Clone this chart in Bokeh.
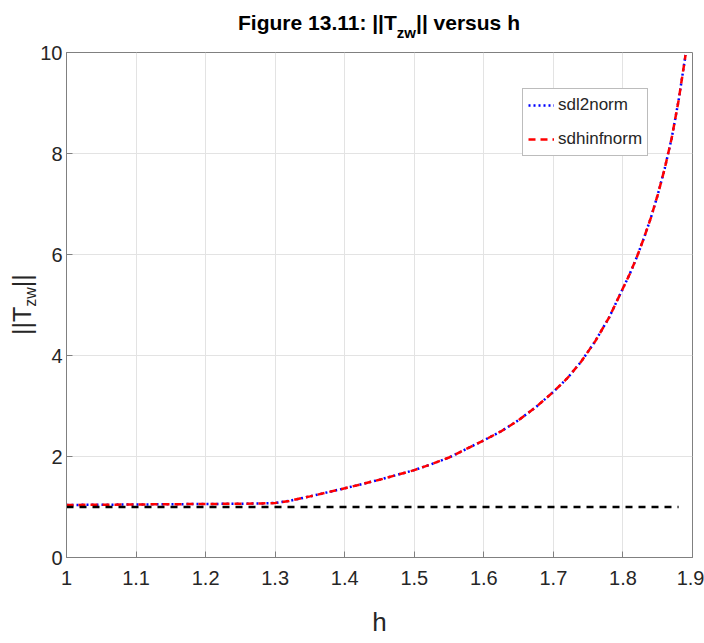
from bokeh.plotting import figure
from bokeh.models import Legend, LegendItem, FixedTicker, Range1d, Div
from bokeh.layouts import column, row
from bokeh.embed import file_html
from bokeh.resources import INLINE

# ---- data ----
h = [1.00, 1.05, 1.10, 1.15, 1.20, 1.25, 1.28, 1.30, 1.32, 1.35, 1.40, 1.45,
     1.50, 1.525, 1.55, 1.60, 1.625, 1.65, 1.675, 1.70, 1.72, 1.74, 1.76, 1.78,
     1.80, 1.81, 1.82, 1.83, 1.84, 1.85, 1.86, 1.87, 1.88, 1.89]
sdl2norm = [1.04, 1.045, 1.05, 1.055, 1.06, 1.065, 1.07, 1.08, 1.12, 1.21, 1.37, 1.54,
            1.73, 1.85, 1.98, 2.32, 2.50, 2.72, 2.98, 3.28, 3.55, 3.88, 4.28, 4.75,
            5.33, 5.62, 5.95, 6.32, 6.72, 7.18, 7.70, 8.30, 9.05, 9.95]
sdhinfnorm = [1.04, 1.045, 1.05, 1.055, 1.06, 1.065, 1.07, 1.08, 1.12, 1.21, 1.37, 1.54,
              1.73, 1.85, 1.98, 2.32, 2.50, 2.72, 2.98, 3.28, 3.55, 3.88, 4.28, 4.75,
              5.33, 5.62, 5.95, 6.32, 6.72, 7.18, 7.70, 8.30, 9.05, 9.95]
h_ref = [1.00, 1.88]
ref = [1.0, 1.0]

x_ticks = [1.0, 1.1, 1.2, 1.3, 1.4, 1.5, 1.6, 1.7, 1.8, 1.9]
x_tick_labels = ["1", "1.1", "1.2", "1.3", "1.4", "1.5", "1.6", "1.7", "1.8", "1.9"]
y_ticks = [0, 2, 4, 6, 8, 10]

FONT = "Liberation Sans"
AX_COL = "#808080"
TXT_COL = "#262626"

TITLE_H = 38
YLAB_W = 36
W, H = 704, 643

p = figure(width=W - YLAB_W, height=H - TITLE_H,
           x_range=Range1d(1.0, 1.9), y_range=Range1d(0, 10),
           output_backend="svg", toolbar_location=None,
           min_border_left=30, min_border_right=12, min_border_top=14,
           min_border_bottom=86, margin=0)
p.outline_line_color = AX_COL
p.outline_line_width = 1
p.background_fill_color = "white"
p.border_fill_color = "white"

for ax in (p.xaxis[0], p.yaxis[0]):
    ax.axis_line_color = AX_COL
    ax.major_tick_line_color = AX_COL
    ax.major_tick_in = 6
    ax.major_tick_out = 0
    ax.minor_tick_line_color = None
    ax.major_label_text_font = FONT
    ax.major_label_text_font_size = "20px"
    ax.major_label_text_color = TXT_COL

p.xaxis.ticker = FixedTicker(ticks=x_ticks)
p.xaxis.major_label_overrides = {t: s for t, s in zip(x_ticks, x_tick_labels)}
p.xaxis.major_label_standoff = 13
p.xaxis.axis_label = "h"
p.xaxis.axis_label_text_font = FONT
p.xaxis.axis_label_text_font_size = "26px"
p.xaxis.axis_label_text_font_style = "normal"
p.xaxis.axis_label_text_color = TXT_COL
p.xaxis.axis_label_standoff = 19
p.yaxis.ticker = FixedTicker(ticks=y_ticks)
p.yaxis.major_label_standoff = 4

p.xgrid.ticker = FixedTicker(ticks=x_ticks)
p.ygrid.ticker = FixedTicker(ticks=y_ticks)
p.xgrid.grid_line_color = "#e3e3e3"
p.ygrid.grid_line_color = "#e3e3e3"

r_l2 = p.line(h, sdl2norm, line_color="#0000ff", line_width=2.5, line_dash="2 3")
r_hinf = p.line(h, sdhinfnorm, line_color="#ff0000", line_width=2.5, line_dash="7 5")
p.line(h_ref, ref, line_color="black", line_width=2.5, line_dash="7 6")

legend = Legend(items=[LegendItem(label="sdl2norm", renderers=[r_l2]),
                       LegendItem(label="sdhinfnorm", renderers=[r_hinf])],
                location=(456, 401))
legend.label_text_font = FONT
legend.label_text_font_size = "17px"
legend.label_text_color = TXT_COL
legend.border_line_color = "#7a7a7a"
legend.border_line_width = 1
legend.background_fill_color = "white"
legend.background_fill_alpha = 1
legend.glyph_width = 26
legend.glyph_height = 22
legend.label_height = 22
legend.label_standoff = 4
legend.spacing = 12
legend.padding = 5
legend.margin = 0
p.add_layout(legend, "center")

# title with subscript
title_html = (
    f'<div style="position:relative;width:{W}px;height:{TITLE_H}px;margin:0;padding:0;">'
    f'<span style="position:absolute;left:0;top:12px;width:758px;text-align:center;'
    f'white-space:nowrap;font-family:\'{FONT}\';font-weight:bold;font-size:21px;'
    f'line-height:1;color:#000;">Figure 13.11: ||T'
    f'<sub style="font-size:15px;vertical-align:-8px;line-height:1;">zw</sub>'
    f'|| versus h</span></div>'
)
title_div = Div(text=title_html, width=W, height=TITLE_H, margin=0)

# rotated y-axis label with subscript
ylab_html = (
    f'<div style="position:relative;width:{YLAB_W}px;height:{H - TITLE_H}px;margin:0;padding:0;">'
    f'<span style="position:absolute;left:10px;top:297px;transform-origin:0 0;'
    f'transform:rotate(-90deg);white-space:nowrap;font-family:\'{FONT}\';'
    f'font-size:25px;line-height:1;color:{TXT_COL};">||T'
    f'<sub style="font-size:16px;vertical-align:-5px;line-height:1;">zw</sub>'
    f'||</span></div>'
)
ylab_div = Div(text=ylab_html, width=YLAB_W, height=H - TITLE_H, margin=0)

layout = column(title_div, row(ylab_div, p, spacing=0, margin=0), spacing=0, margin=0)

open("out.html", "w").write(file_html(layout, INLINE))
